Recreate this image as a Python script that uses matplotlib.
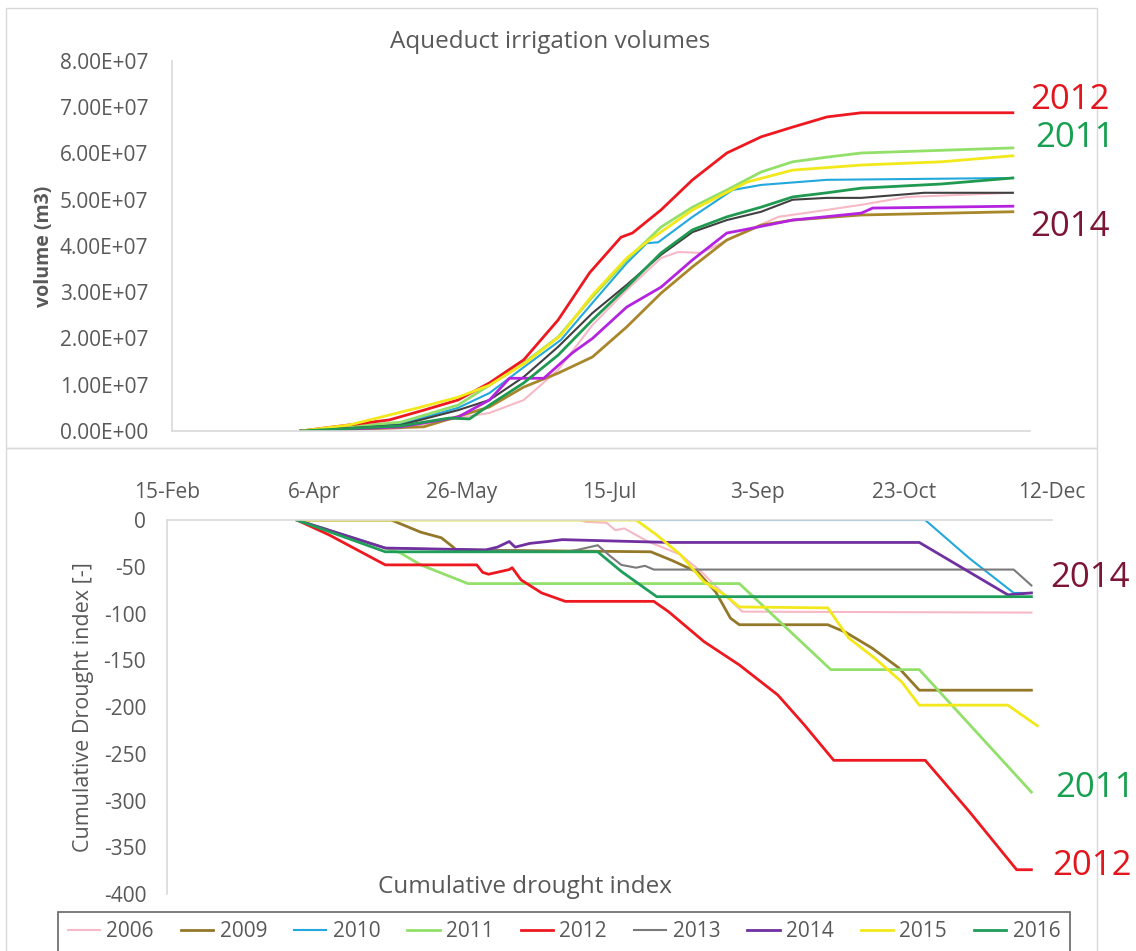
import matplotlib
matplotlib.use("Agg")
import matplotlib.pyplot as plt
from matplotlib.lines import Line2D
from matplotlib.patches import Rectangle
from matplotlib.ticker import FuncFormatter

plt.rcParams['font.family'] = ['Open Sans', 'DejaVu Sans']
plt.rcParams['axes.unicode_minus'] = False

years = ['2006', '2009', '2010', '2011', '2012', '2013', '2014', '2015', '2016']
colors = ['#f6b9c5', '#94782a', '#22a8dc', '#92e06a', '#ee1820', '#7a7a7a', '#7030a0', '#f2e81a', '#1f9e5a']
top_colors = ['#f6b9c5', '#a8862a', '#22a8dc', '#92e06a', '#ee1820', '#404040', '#b424e0', '#f2e81a', '#1f9a50']

# date axis in day of year
date_ticks = [46, 96, 146, 196, 246, 296, 346]
date_labels = ['15-Feb', '6-Apr', '26-May', '15-Jul', '3-Sep', '23-Oct', '12-Dec']

# --- Aqueduct irrigation volumes (x 1e7 m3) ---
vday_2006 = [91, 126, 146, 157, 169, 181, 193, 205, 217, 223, 231, 246, 258, 275, 287, 303, 340]
vol_2006 = [0, 0.06, 0.28, 0.39, 0.67, 1.32, 2.29, 3.05, 3.74, 3.87, 3.85, 4.30, 4.63, 4.78, 4.89, 5.06, 5.15]
vday_2009 = [91, 134, 157, 169, 181, 193, 205, 217, 228, 240, 252, 263, 287, 340]
vol_2009 = [0, 0.09, 0.52, 0.95, 1.25, 1.60, 2.25, 2.98, 3.55, 4.13, 4.45, 4.56, 4.67, 4.74]
vday_2010 = [91, 126, 146, 157, 169, 182, 193, 205, 212, 216, 228, 242, 252, 275, 340]
vol_2010 = [0, 0.15, 0.50, 0.82, 1.38, 1.97, 2.77, 3.63, 4.06, 4.08, 4.63, 5.21, 5.32, 5.43, 5.47]
vday_2011 = [91, 126, 146, 157, 169, 181, 193, 205, 217, 228, 240, 252, 263, 275, 287, 340]
vol_2011 = [0, 0.19, 0.56, 0.99, 1.47, 2.03, 2.90, 3.70, 4.41, 4.84, 5.21, 5.60, 5.82, 5.92, 6.01, 6.12]
vday_2012 = [91, 122, 134, 146, 157, 169, 181, 192, 203, 207, 217, 228, 240, 252, 263, 275, 287, 340]
vol_2012 = [0, 0.24, 0.45, 0.67, 1.04, 1.54, 2.40, 3.42, 4.19, 4.28, 4.78, 5.43, 6.01, 6.36, 6.57, 6.79, 6.88, 6.88]
vday_2013 = [91, 126, 146, 157, 169, 181, 193, 205, 217, 228, 240, 252, 263, 275, 287, 309, 340]
vol_2013 = [0, 0.13, 0.45, 0.67, 1.17, 1.82, 2.55, 3.16, 3.81, 4.30, 4.56, 4.74, 5.00, 5.04, 5.04, 5.15, 5.15]
vday_2014 = [91, 126, 146, 157, 164, 176, 186, 193, 205, 217, 228, 240, 246, 263, 287, 291, 340]
vol_2014 = [0, 0.09, 0.30, 0.67, 1.14, 1.14, 1.69, 2.00, 2.68, 3.11, 3.70, 4.28, 4.35, 4.56, 4.71, 4.82, 4.86]
vday_2015 = [91, 108, 132, 146, 157, 170, 182, 193, 205, 213, 228, 247, 263, 287, 315, 340]
vol_2015 = [0, 0.13, 0.50, 0.73, 0.99, 1.49, 2.07, 2.94, 3.74, 4.13, 4.78, 5.38, 5.64, 5.75, 5.82, 5.95]
vday_2016 = [91, 126, 143, 150, 157, 169, 181, 193, 205, 217, 228, 240, 252, 263, 275, 287, 315, 340]
vol_2016 = [0, 0.11, 0.28, 0.26, 0.56, 1.04, 1.64, 2.40, 3.11, 3.85, 4.35, 4.63, 4.84, 5.06, 5.15, 5.25, 5.34, 5.47]

# --- Cumulative drought index ---
dday_2006 = [90, 186, 188, 195, 198, 201, 205, 209, 220, 227, 234, 241, 339]
cdi_2006 = [0, 0, -2, -3, -11, -9, -16, -23, -37, -55, -77, -98, -99]
dday_2009 = [90, 122, 132, 139, 143, 144, 210, 217, 226, 232, 237, 240, 270, 276, 285, 294, 301, 339]
cdi_2009 = [0, 0, -13, -19, -29, -32, -34, -43, -56, -77, -105, -112, -112, -120, -137, -158, -182, -182]
dday_2010 = [90, 303, 318, 333, 339]
cdi_2010 = [0, 0, -41, -78, -78]
dday_2011 = [90, 105, 120, 125, 132, 148, 240, 271, 301, 339]
cdi_2011 = [0, -15, -30, -35, -48, -68, -68, -160, -160, -291]
dday_2012 = [90, 101, 120, 151, 153, 155, 162, 163, 166, 173, 181, 211, 216, 228, 240, 253, 262, 272, 303, 318, 334, 339]
cdi_2012 = [0, -16, -48, -48, -56, -58, -53, -51, -64, -78, -87, -87, -98, -130, -155, -187, -219, -257, -257, -312, -374, -374]
dday_2013 = [90, 105, 120, 181, 185, 192, 196, 200, 205, 208, 211, 333, 339]
cdi_2013 = [0, -15, -30, -34, -32, -27, -38, -48, -51, -49, -53, -53, -70]
dday_2014 = [90, 105, 120, 154, 158, 162, 164, 169, 175, 180, 216, 301, 331, 339]
cdi_2014 = [0, -15, -30, -32, -29, -23, -29, -25, -23, -21, -24, -24, -80, -78]
dday_2015 = [90, 205, 212, 220, 228, 235, 240, 270, 277, 286, 295, 301, 331, 341]
cdi_2015 = [0, 0, -16, -37, -66, -80, -93, -94, -126, -148, -173, -198, -198, -220]
dday_2016 = [90, 105, 120, 192, 200, 212, 339]
cdi_2016 = [0, -17, -34, -34, -55, -82, -82]

vol_days = [vday_2006, vday_2009, vday_2010, vday_2011, vday_2012, vday_2013, vday_2014, vday_2015, vday_2016]
vols = [vol_2006, vol_2009, vol_2010, vol_2011, vol_2012, vol_2013, vol_2014, vol_2015, vol_2016]
cdi_days = [dday_2006, dday_2009, dday_2010, dday_2011, dday_2012, dday_2013, dday_2014, dday_2015, dday_2016]
cdis = [cdi_2006, cdi_2009, cdi_2010, cdi_2011, cdi_2012, cdi_2013, cdi_2014, cdi_2015, cdi_2016]
thin = ['2006', '2010', '2013']

grey_txt = '#595959'
frame = '#d9d9d9'

fig = plt.figure(figsize=(11.36, 9.51), dpi=100)

# panel frames
fig.patches.append(Rectangle((6 / 1136, 1 - 448 / 951), 1091 / 1136, 440 / 951, transform=fig.transFigure,
                             fill=False, edgecolor=frame, lw=1))
fig.patches.append(Rectangle((6 / 1136, -0.01), 1091 / 1136, 1 - 448 / 951 + 0.01, transform=fig.transFigure,
                             fill=False, edgecolor=frame, lw=1))

# top panel
ax1 = fig.add_axes([0.1514, 0.5468, 0.7553, 0.3891])
for y, d, v, c in zip(years, vol_days, vols, top_colors):
    ax1.plot(d, [val * 1e7 for val in v], color=c, lw=1.5 if y in thin else 2.0)
ax1.set_xlim(46, 346)
ax1.set_ylim(0, 8e7)
ax1.set_yticks([i * 1e7 for i in range(9)])
ax1.yaxis.set_major_formatter(FuncFormatter(lambda v, p: '%.2E' % v))
ax1.set_xticks([])
for s in ['top', 'right']:
    ax1.spines[s].set_visible(False)
for s in ['left', 'bottom']:
    ax1.spines[s].set_color(frame)
    ax1.spines[s].set_linewidth(1.2)
ax1.tick_params(axis='y', length=0, pad=17, labelsize=15, labelcolor=grey_txt)
ax1.set_ylabel('volume (m3)', fontsize=14, color=grey_txt, fontweight='bold')
ax1.yaxis.set_label_coords(-0.138, 0.5)
fig.text(550 / 1136, 1 - 42 / 951, 'Aqueduct irrigation volumes', ha='center', va='center',
         fontsize=17.5, color=grey_txt)

# bottom panel
ax2 = fig.add_axes([0.1470, 0.0599, 0.7791, 0.3933])
for y, d, v, c in zip(years, cdi_days, cdis, colors):
    ax2.plot(d, v, color=c, lw=1.5 if y in thin else 2.0)
ax2.set_xlim(46, 346)
ax2.set_ylim(-400, 0)
ax2.set_yticks(range(-400, 1, 50))
ax2.set_xticks(date_ticks)
ax2.set_xticklabels(date_labels)
ax2.xaxis.tick_top()
for s in ['bottom', 'right']:
    ax2.spines[s].set_visible(False)
for s in ['left', 'top']:
    ax2.spines[s].set_color(frame)
    ax2.spines[s].set_linewidth(1.2)
ax2.tick_params(axis='both', length=0, labelsize=15, labelcolor=grey_txt)
ax2.tick_params(axis='y', pad=15)
ax2.tick_params(axis='x', pad=12)
ax2.set_ylabel('Cumulative Drought index [-]', fontsize=15.5, color=grey_txt)
ax2.yaxis.set_label_coords(-0.082, 0.5)
fig.text(525 / 1136, 1 - 887 / 951, 'Cumulative drought index', ha='center', va='center',
         fontsize=17.5, color=grey_txt)

# year call-outs
red_lbl = '#e3161e'
green_lbl = '#17a050'
maroon_lbl = '#7d1636'
for txt, x, y, c in [('2012', 1070, 100, red_lbl), ('2011', 1075, 138, green_lbl), ('2014', 1070, 227, maroon_lbl),
                     ('2014', 1090, 578, maroon_lbl), ('2011', 1095, 788, green_lbl), ('2012', 1092, 866, red_lbl)]:
    fig.text(x / 1136, 1 - y / 951, txt, ha='center', va='center', fontsize=25, color=c)

# legend
handles = [Line2D([], [], color=c, lw=1.5 if y in thin else 2.0) for y, c in zip(years, colors)]
leg = fig.legend(handles, years, loc='upper center', bbox_to_anchor=(564 / 1136, 1 - 912 / 951), ncol=9,
                 frameon=True, fancybox=False, fontsize=15, handlelength=1.55, handletextpad=0.3,
                 columnspacing=1.3, borderpad=0.45, borderaxespad=0)
leg.get_frame().set_edgecolor('#404040')
leg.get_frame().set_linewidth(1.2)
for t in leg.get_texts():
    t.set_color(grey_txt)

fig.savefig('out.png', dpi=100)
